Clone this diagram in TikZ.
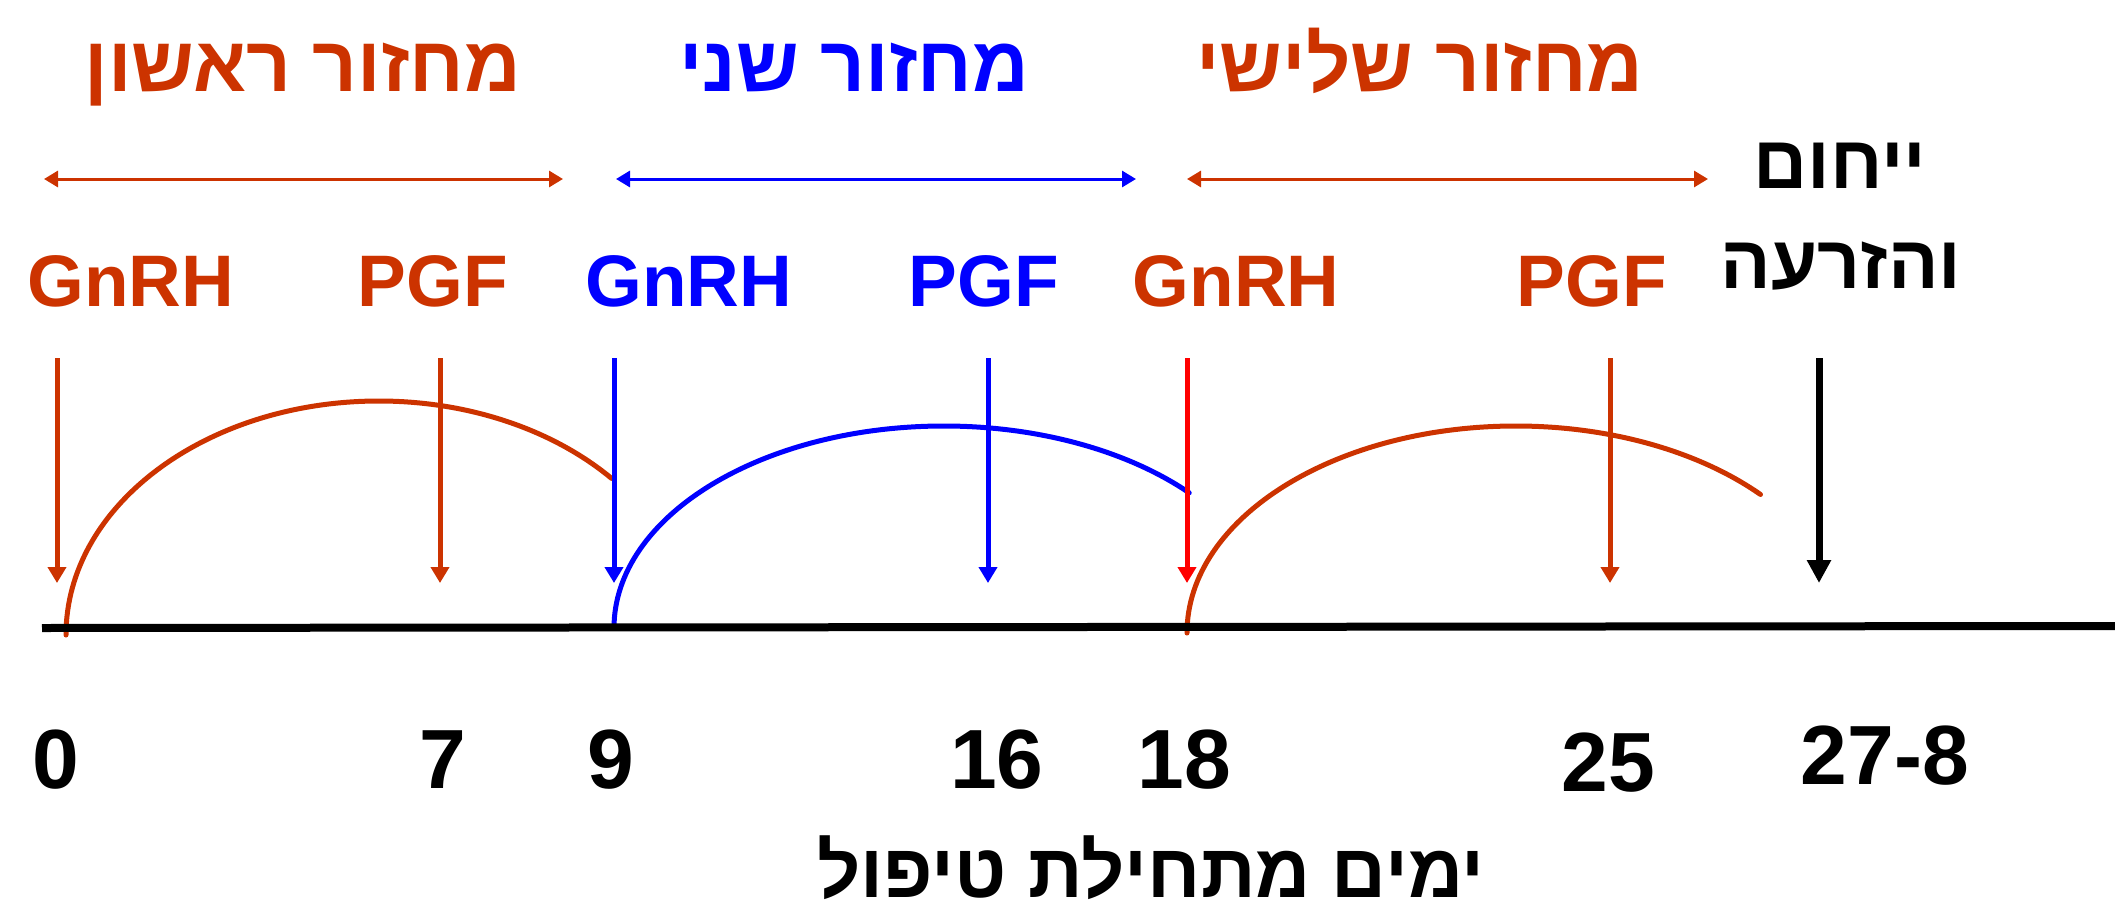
\documentclass[tikz,border=0pt]{standalone}
\usepackage{fontspec}
\setmainfont{Liberation Sans}
\newfontfamily\hebfont[Script=Hebrew]{Liberation Sans}
\TeXXeTstate=1
\usetikzlibrary{arrows.meta}
\definecolor{CycleRed}{RGB}{204, 51, 0}
\definecolor{CycleBlue}{RGB}{0, 0, 255}
\definecolor{PureRed}{RGB}{255, 0, 0}

\begin{document}
\begin{tikzpicture}[
    x=1pt, y=-1pt,
    every node/.style={inner sep=0pt, anchor=base},
    cycletitle/.style={font=\hebfont\fontsize{78}{78}\selectfont\bfseries},
    drug/.style={font=\fontsize{73}{73}\selectfont\bfseries},
    daynum/.style={font=\fontsize{84}{84}\selectfont\bfseries},
    dose/.style={line width=5pt, -{Triangle[length=16pt, width=18pt]}},
    span/.style={line width=3pt, {Triangle[length=14pt, width=16pt]}-{Triangle[length=14pt, width=16pt]}},
    phasearc/.style={line width=5pt, line cap=round}
]
\useasboundingbox (0,0) rectangle (2115,913);

% cycle titles and spans
\node[cycletitle, CycleRed] (t1) at (303,91) {\beginR מחזור ראשון\endR};
\node[cycletitle, CycleBlue] (t2) at (854,91) {\beginR מחזור שני\endR};
\node[cycletitle, CycleRed] (t3) at (1420,91) {\beginR מחזור שלישי\endR};
\coordinate (s1l) at (44,179);   \coordinate (s1r) at (563,179);
\coordinate (s2l) at (616,179);  \coordinate (s2r) at (1136,179);
\coordinate (s3l) at (1187,179); \coordinate (s3r) at (1708,179);
\draw[span, CycleRed] (s1l) -- (s1r);
\draw[span, CycleBlue] (s2l) -- (s2r);
\draw[span, CycleRed] (s3l) -- (s3r);

% treatments
\node[drug, CycleRed] (g1) at (131,306) {GnRH};
\node[drug, CycleRed] (p1) at (433,306) {PGF};
\node[drug, CycleBlue] (g2) at (689,306) {GnRH};
\node[drug, CycleBlue] (p2) at (984,306) {PGF};
\node[drug, CycleRed] (g3) at (1236,306) {GnRH};
\node[drug, CycleRed] (p3) at (1592,306) {PGF};
\node[font=\hebfont\fontsize{75}{75}\selectfont\bfseries] (heat) at (1840,188) {\beginR ייחום\endR};
\node[font=\hebfont\fontsize{75}{75}\selectfont\bfseries] (ai) at (1841,288) {\beginR והזרעה\endR};

% injection arrows
\coordinate (g1top) at (57,358);   \coordinate (g1tip) at (57,583);
\coordinate (p1top) at (440,358);  \coordinate (p1tip) at (440,583);
\coordinate (g2top) at (614,358);  \coordinate (g2tip) at (614,583);
\coordinate (p2top) at (988,358);  \coordinate (p2tip) at (988,583);
\coordinate (g3top) at (1187,358); \coordinate (g3tip) at (1187,583);
\coordinate (p3top) at (1610,358); \coordinate (p3tip) at (1610,583);
\coordinate (aitop) at (1819,358); \coordinate (aitip) at (1819,583);

% follicle waves
\coordinate (w1) at (66,635);
\coordinate (w2) at (614,628);
\coordinate (w3) at (1187,633);
\draw[phasearc, CycleRed] (w1) arc[start angle=180, end angle=42, x radius=313pt, y radius=234pt];
\draw[phasearc, CycleBlue] (w2) arc[start angle=180, end angle=42, x radius=330pt, y radius=202pt];
\draw[phasearc, CycleRed] (w3) arc[start angle=180, end angle=42, x radius=329pt, y radius=207pt];

\draw[dose, CycleRed] (g1top) -- (g1tip);
\draw[dose, CycleRed] (p1top) -- (p1tip);
\draw[dose, CycleBlue] (g2top) -- (g2tip);
\draw[dose, CycleBlue] (p2top) -- (p2tip);
\draw[dose, PureRed] (g3top) -- (g3tip);
\draw[dose, CycleRed] (p3top) -- (p3tip);
\draw[line width=7pt, -{Triangle[length=23pt, width=23pt]}] (aitop) -- (aitip);

% time axis
\coordinate (axl) at (42,628);
\coordinate (axr) at (2115,626);
\draw[line width=8pt] (axl) -- (axr);

% days
\node[daynum] (d0) at (56,788) {0};
\node[daynum] (d7) at (443,788) {7};
\node[daynum] (d9) at (611,788) {9};
\node[daynum] (d16) at (997,788) {16};
\node[daynum] (d18) at (1184,788) {18};
\node[daynum] (d25) at (1608,791) {25};
\node[daynum] (d27) at (1885,784) {27-8};
\node[font=\hebfont\fontsize{76}{76}\selectfont\bfseries, text depth=0pt] (xlabel) at (1151,897) {\beginR ימים מתחילת טיפול\endR};
\end{tikzpicture}
\end{document}
